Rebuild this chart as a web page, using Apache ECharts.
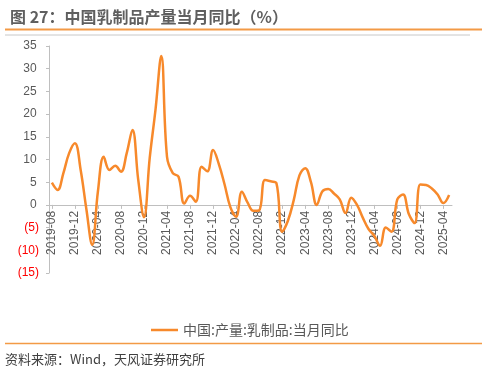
<!DOCTYPE html>
<html>
<head>
<meta charset="utf-8">
<script src="https://cdn.jsdelivr.net/npm/echarts@6/dist/echarts.min.js"></script>
<style>
html,body{margin:0;padding:0;background:#fff;}
#chart{width:488px;height:373px;}
</style>
</head>
<body>
<div id="chart"></div>
<script>
const titleText = '图 27：中国乳制品产量当月同比（%）';
const sourceText = '资料来源：Wind，天风证券研究所';
const seriesName = '中国:产量:乳制品:当月同比';
const categories = [
  '2019-08','2019-09','2019-10','2019-11','2019-12',
  '2020-01','2020-02','2020-03','2020-04','2020-05','2020-06','2020-07','2020-08','2020-09','2020-10','2020-11','2020-12',
  '2021-01','2021-02','2021-03','2021-04','2021-05','2021-06','2021-07','2021-08','2021-09','2021-10','2021-11','2021-12',
  '2022-01','2022-02','2022-03','2022-04','2022-05','2022-06','2022-07','2022-08','2022-09','2022-10','2022-11','2022-12',
  '2023-01','2023-02','2023-03','2023-04','2023-05','2023-06','2023-07','2023-08','2023-09','2023-10','2023-11','2023-12',
  '2024-01','2024-02','2024-03','2024-04','2024-05','2024-06','2024-07','2024-08','2024-09','2024-10','2024-11','2024-12',
  '2025-01','2025-02','2025-03','2025-04','2025-05'
];
const values = [
  4.9, 3.3, 7.0, 11.4, 13.6,
  7.7, -1.0, -8.8, 3.0, 10.6, 7.7, 8.6, 7.3, 11.4, 16.5, 5.5, -2.7,
  10.4, 21.0, 32.8, 10.6, 7.0, 6.2, 0.3, 2.0, 0.7, 8.4, 7.4, 12.1,
  9.0, 4.5, -0.5, -2.6, 2.9, 0.5, -1.3, -1.2, 5.5, 5.2, 4.8, -5.9,
  -3.5, 1.0, 6.5, 8.1, 5.0, 0.0, 3.0, 3.5, 2.5, 1.2, -1.8, 1.6,
  0.0, -2.8, -5.3, -6.8, -9.0, -5.0, -5.9, 1.2, 2.3, -2.0, -4.0, 4.5,
  4.4, 3.6, 2.3, 0.4, 2.2
];
const yMin = -15, yMax = 35, yStep = 5;

const lineColor = '#F7892B';
const font = '"Noto Sans CJK SC", "Noto Sans", sans-serif';
const gridTop = 46, gridBottom = 100, chartH = 373;
const plotH = chartH - gridTop - gridBottom;
// distance from grid bottom (yMin) up to the zero line, so the x axis sits on 0
const zeroOffset = -plotH * (0 - yMin) / (yMax - yMin);

const chart = echarts.init(document.getElementById('chart'), null, {renderer: 'canvas'});
chart.setOption({
  animation: false,
  backgroundColor: '#fff',
  title: {
    text: titleText,
    left: 5, top: 4,
    textStyle: {fontSize: 16, fontWeight: 'bold', color: '#5f5f5f', fontFamily: font}
  },
  graphic: [
    {type: 'line', shape: {x1: 5, y1: 29.5, x2: 482, y2: 29.5}, style: {stroke: '#F39A46', lineWidth: 2}},
    {type: 'line', shape: {x1: 5, y1: 35, x2: 470, y2: 35}, style: {stroke: '#c8c8c8', lineWidth: 1}},
    {type: 'line', shape: {x1: 5, y1: 343.5, x2: 482, y2: 343.5}, style: {stroke: '#F39A46', lineWidth: 1.5}},
    {type: 'text', left: 5, top: 353, style: {text: sourceText, fontSize: 13, fill: '#404040', fontFamily: font}}
  ],
  legend: {
    data: [seriesName],
    left: 146, top: 318,
    icon: 'rect', itemWidth: 27, itemHeight: 2.5, itemGap: 10,
    textStyle: {fontSize: 14, color: '#595959', fontFamily: font}
  },
  grid: {left: 49, right: 36, top: gridTop, bottom: gridBottom, containLabel: false},
  xAxis: {
    type: 'category',
    data: categories,
    boundaryGap: true,
    position: 'bottom',
    offset: zeroOffset,
    axisLine: {onZero: false, lineStyle: {color: '#bfbfbf', width: 1}},
    axisTick: {show: true, alignWithLabel: true, interval: 3, length: 4, lineStyle: {color: '#bfbfbf'}},
    axisLabel: {interval: 3, rotate: 90, margin: 6, fontSize: 12, color: '#595959', fontFamily: 'Liberation Sans, Arial, sans-serif'},
    splitLine: {show: false}
  },
  yAxis: {
    type: 'value',
    min: yMin, max: yMax, interval: yStep,
    axisLine: {show: true, lineStyle: {color: '#bfbfbf', width: 1}},
    axisTick: {show: true, length: 3, lineStyle: {color: '#bfbfbf'}},
    splitLine: {show: false},
    axisLabel: {
      margin: 10,
      fontSize: 12,
      fontFamily: 'Liberation Sans, Arial, sans-serif',
      formatter: function (v) { return v < 0 ? '{n|(' + Math.abs(v) + ')}' : '{p|' + v + '\u2009}'; },
      rich: {
        n: {color: '#FF0000', fontSize: 12, fontFamily: 'Liberation Sans, Arial, sans-serif'},
        p: {color: '#595959', fontSize: 12, fontFamily: 'Liberation Sans, Arial, sans-serif'}
      }
    }
  },
  series: [{
    name: seriesName,
    type: 'line',
    data: values,
    smooth: 0.4,
    symbol: 'none',
    lineStyle: {color: lineColor, width: 2.5},
    itemStyle: {color: lineColor}
  }]
});
</script>
</body>
</html>
